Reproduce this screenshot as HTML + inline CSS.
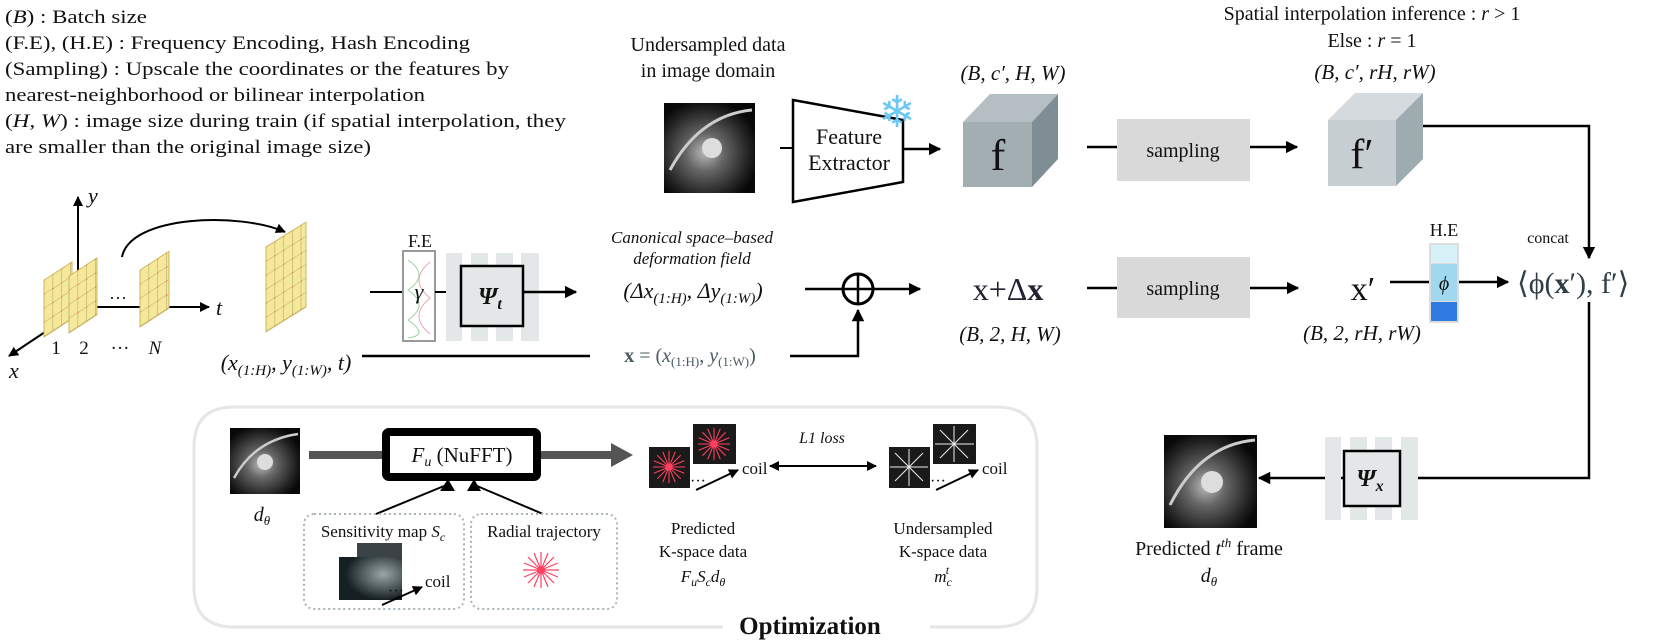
<!DOCTYPE html>
<html><head><meta charset="utf-8"><style>
html,body{margin:0;padding:0;background:#fff}
svg{display:block}
text{font-family:"Liberation Serif",serif;fill:#111}
</style></head><body>
<svg width="1661" height="644" viewBox="0 0 1661 644" xmlns="http://www.w3.org/2000/svg">
<defs>
<marker id="ah" viewBox="0 0 10 10" refX="9" refY="5" markerWidth="5" markerHeight="5" orient="auto-start-reverse"><path d="M0,0L10,5L0,10z" fill="#000"/></marker>
<pattern id="grid" width="8.7" height="14" patternUnits="userSpaceOnUse"><rect width="8.7" height="14" fill="#f5e89a"/><path d="M0,0V14M0,0H8.7" stroke="#9a8a50" stroke-width="0.8"/><circle cx="0" cy="0" r="1.3" fill="#e8734a"/></pattern>
<radialGradient id="mri" cx="0.45" cy="0.55" r="0.6"><stop offset="0" stop-color="#bbb"/><stop offset="0.35" stop-color="#666"/><stop offset="0.8" stop-color="#222"/><stop offset="1" stop-color="#080808"/></radialGradient>
<radialGradient id="sens" cx="0.7" cy="0.4" r="0.6"><stop offset="0" stop-color="#9aa6a8"/><stop offset="1" stop-color="#162022"/></radialGradient>
<g id="star"><g stroke="#ff4060" stroke-width="1.2"><line x1="-18" y1="0" x2="18" y2="0"/><line x1="0" y1="-18" x2="0" y2="18"/><line x1="-13" y1="-13" x2="13" y2="13"/><line x1="-13" y1="13" x2="13" y2="-13"/><line x1="-17" y1="-7" x2="17" y2="7"/><line x1="-17" y1="7" x2="17" y2="-7"/><line x1="-7" y1="-17" x2="7" y2="17"/><line x1="-7" y1="17" x2="7" y2="-17"/></g><circle r="4" fill="#ff4060"/></g>
</defs>

<!-- top-left legend -->
<g font-size="19">
<text x="5" y="23" textLength="142" lengthAdjust="spacingAndGlyphs">(<tspan font-style="italic">B</tspan>) : Batch size</text>
<text x="5" y="49" textLength="465" lengthAdjust="spacingAndGlyphs">(F.E), (H.E) : Frequency Encoding, Hash Encoding</text>
<text x="5" y="75" textLength="504" lengthAdjust="spacingAndGlyphs">(Sampling) : Upscale the coordinates or the features by</text>
<text x="5" y="101" textLength="420" lengthAdjust="spacingAndGlyphs">nearest-neighborhood or bilinear interpolation</text>
<text x="5" y="127" textLength="561" lengthAdjust="spacingAndGlyphs">(<tspan font-style="italic">H, W</tspan>) : image size during train (if spatial interpolation, they</text>
<text x="5" y="153" textLength="366" lengthAdjust="spacingAndGlyphs">are smaller than the original image size)</text>
</g>

<!-- top row -->
<text x="708" y="51" font-size="20" text-anchor="middle">Undersampled data</text>
<text x="708" y="77" font-size="20" text-anchor="middle">in image domain</text>
<rect x="664" y="103" width="91" height="90" fill="url(#mri)"/>
<path d="M670,170 Q700,115 752,110" stroke="#ccc" stroke-width="3" fill="none"/>
<circle cx="712" cy="148" r="10" fill="#ddd"/>
<line x1="780" y1="148" x2="793" y2="148" stroke="#000" stroke-width="2"/>
<polygon points="793,100 903,120 903,182 793,202" fill="#fff" stroke="#000" stroke-width="2.5"/>
<text x="849" y="144" font-size="22" text-anchor="middle">Feature</text>
<text x="849" y="170" font-size="22" text-anchor="middle">Extractor</text>
<text x="897" y="127" font-size="44" text-anchor="middle" style="fill:#6cc8f5" font-family="DejaVu Sans">❄</text>
<line x1="903" y1="149" x2="940" y2="149" stroke="#000" stroke-width="2.5" marker-end="url(#ah)"/>
<text x="1013" y="80" font-size="21" text-anchor="middle" font-style="italic">(B, c′, H, W)</text>
<polygon points="963,122 990,94 1058,94 1032,122" fill="#b4bec3"/>
<polygon points="1032,122 1058,94 1058,159 1032,187" fill="#7f8e95"/>
<rect x="963" y="122" width="69" height="65" fill="#a3aeb3"/>
<text x="998" y="170" font-size="44" text-anchor="middle">f</text>
<line x1="1087" y1="147" x2="1117" y2="147" stroke="#000" stroke-width="2.5"/>
<rect x="1117" y="119" width="133" height="62" fill="#d9d9d9"/>
<text x="1183" y="157" font-size="20" text-anchor="middle">sampling</text>
<line x1="1250" y1="147" x2="1297" y2="147" stroke="#000" stroke-width="2.5" marker-end="url(#ah)"/>
<text x="1372" y="20" font-size="20" text-anchor="middle">Spatial interpolation inference : <tspan font-style="italic">r</tspan> &gt; 1</text>
<text x="1372" y="47" font-size="20" text-anchor="middle">Else : <tspan font-style="italic">r</tspan> = 1</text>
<text x="1375" y="79" font-size="21" text-anchor="middle" font-style="italic">(B, c′, rH, rW)</text>
<polygon points="1328,120 1355,93 1423,93 1396,120" fill="#d4dadd"/>
<polygon points="1396,120 1423,93 1423,159 1396,186" fill="#9eacb1"/>
<rect x="1328" y="120" width="68" height="66" fill="#c6ced2"/>
<text x="1362" y="168" font-size="42" text-anchor="middle">f′</text>
<polyline points="1423,126 1589,126 1589,258" fill="none" stroke="#000" stroke-width="2.5" marker-end="url(#ah)"/>

<!-- left: grids and axes -->
<line x1="78" y1="272" x2="78" y2="197" stroke="#000" stroke-width="2" marker-end="url(#ah)"/>
<text x="88" y="203" font-size="22" font-style="italic">y</text>
<line x1="45" y1="332" x2="9" y2="356" stroke="#000" stroke-width="2" marker-end="url(#ah)"/>
<text x="9" y="378" font-size="22" font-style="italic">x</text>
<line x1="96" y1="307" x2="209" y2="307" stroke="#000" stroke-width="2" marker-end="url(#ah)"/>
<text x="216" y="315" font-size="22" font-style="italic">t</text>
<rect x="0" y="0" width="28" height="57" fill="url(#grid)" stroke="#c9b860" transform="translate(44,280) skewY(-33)"/>
<rect x="0" y="0" width="28" height="57" fill="url(#grid)" stroke="#c9b860" transform="translate(69,276) skewY(-33)"/>
<rect x="0" y="0" width="29" height="57" fill="url(#grid)" stroke="#c9b860" transform="translate(140,270) skewY(-33)"/>
<rect x="0" y="0" width="40" height="85" fill="url(#grid)" stroke="#c9b860" transform="translate(266,247) skewY(-32)"/>
<text x="118" y="304" font-size="18" text-anchor="middle">···</text>
<g font-size="19" text-anchor="middle"><text x="56" y="354">1</text><text x="84" y="354">2</text><text x="120" y="354">···</text><text x="155" y="354" font-style="italic">N</text></g>
<path d="M122,257 C130,215 240,212 285,232" fill="none" stroke="#000" stroke-width="2" marker-end="url(#ah)"/>
<text x="286" y="370" font-size="22" text-anchor="middle" font-style="italic">(x<tspan font-size="15" dy="5">(1:H)</tspan><tspan dy="-5">, y</tspan><tspan font-size="15" dy="5">(1:W)</tspan><tspan dy="-5">, t)</tspan></text>

<!-- middle row -->
<line x1="370" y1="292" x2="403" y2="292" stroke="#000" stroke-width="2"/>
<text x="420" y="247" font-size="18" text-anchor="middle">F.E</text>
<rect x="403" y="251" width="32" height="90" fill="#fff" stroke="#999" stroke-width="2"/>
<path d="M408,260 Q430,275 408,290 Q430,305 408,320 Q430,335 408,338" fill="none" stroke="#9ad3a0" stroke-width="1"/>
<path d="M430,262 Q408,280 430,298 Q408,316 430,334" fill="none" stroke="#f0a0b0" stroke-width="1"/>
<text x="419" y="299" font-size="22" text-anchor="middle" font-style="italic">γ</text>
<line x1="435" y1="292" x2="461" y2="292" stroke="#000" stroke-width="2"/>
<g fill="#e3e7e8"><rect x="446" y="253" width="16" height="88"/><rect x="471" y="253" width="17" height="88"/><rect x="496" y="253" width="17" height="88"/><rect x="521" y="253" width="18" height="88"/></g>
<rect x="461" y="266" width="62" height="60" fill="#e3e7e8" stroke="#000" stroke-width="2.5"/>
<text x="490" y="304" font-size="24" text-anchor="middle" font-style="italic" font-weight="bold">Ψ<tspan font-size="16" dy="5">t</tspan></text>
<line x1="523" y1="292" x2="576" y2="292" stroke="#000" stroke-width="2.5" marker-end="url(#ah)"/>
<text x="692" y="243" font-size="17" text-anchor="middle" font-style="italic">Canonical space–based</text>
<text x="692" y="264" font-size="17" text-anchor="middle" font-style="italic">deformation field</text>
<text x="693" y="298" font-size="22" text-anchor="middle" font-style="italic">(Δx<tspan font-size="15" dy="5">(1:H)</tspan><tspan dy="-5">, Δy</tspan><tspan font-size="15" dy="5">(1:W)</tspan><tspan dy="-5">)</tspan></text>
<line x1="805" y1="289" x2="920" y2="289" stroke="#000" stroke-width="2.5" marker-end="url(#ah)"/>
<circle cx="858" cy="289" r="15" fill="none" stroke="#000" stroke-width="3"/>
<line x1="858" y1="274" x2="858" y2="304" stroke="#000" stroke-width="2.5"/>
<polyline points="362,356 858,356 858,310" fill="none" stroke="#000" stroke-width="2.5" marker-end="url(#ah)"/>
<rect x="590" y="340" width="200" height="30" fill="#fff"/>
<text x="690" y="362" font-size="20" text-anchor="middle" style="fill:#4a5a5e"><tspan font-weight="bold">x</tspan> = (<tspan font-style="italic">x</tspan><tspan font-size="13" dy="4">(1:H)</tspan><tspan dy="-4">, </tspan><tspan font-style="italic">y</tspan><tspan font-size="13" dy="4">(1:W)</tspan><tspan dy="-4">)</tspan></text>
<text x="1008" y="300" font-size="32" text-anchor="middle" style="fill:#223">x+Δ<tspan font-weight="bold">x</tspan></text>
<text x="1010" y="341" font-size="21" text-anchor="middle" font-style="italic">(B, 2, H, W)</text>
<line x1="1087" y1="288" x2="1117" y2="288" stroke="#000" stroke-width="2.5"/>
<rect x="1117" y="257" width="133" height="61" fill="#d9d9d9"/>
<text x="1183" y="295" font-size="20" text-anchor="middle">sampling</text>
<line x1="1250" y1="288" x2="1298" y2="288" stroke="#000" stroke-width="2.5" marker-end="url(#ah)"/>
<text x="1363" y="300" font-size="34" text-anchor="middle">x′</text>
<text x="1362" y="340" font-size="21" text-anchor="middle" font-style="italic">(B, 2, rH, rW)</text>
<line x1="1390" y1="282" x2="1429" y2="282" stroke="#000" stroke-width="2.5"/>
<text x="1444" y="236" font-size="18" text-anchor="middle">H.E</text>
<rect x="1429" y="243" width="30" height="80" fill="#ddd"/>
<rect x="1431" y="245" width="26" height="18" fill="#d6f1f8"/>
<rect x="1431" y="264" width="26" height="37" fill="#9fd8ef"/>
<rect x="1431" y="302" width="26" height="19" fill="#2f7ae0"/>
<text x="1444" y="290" font-size="20" text-anchor="middle" font-style="italic">ϕ</text>
<line x1="1459" y1="282" x2="1508" y2="282" stroke="#000" stroke-width="2.5" marker-end="url(#ah)"/>
<text x="1548" y="243" font-size="16" text-anchor="middle">concat</text>
<text x="1517" y="293" font-size="30" style="fill:#2f3f44">⟨ϕ(<tspan font-weight="bold">x</tspan>′), f′⟩</text>
<polyline points="1589,302 1589,478 1259,478" fill="none" stroke="#000" stroke-width="2.5" marker-end="url(#ah)"/>
<g fill="#e3e7e8"><rect x="1325" y="437" width="16" height="83"/><rect x="1350" y="437" width="17" height="83"/><rect x="1375" y="437" width="17" height="83"/><rect x="1401" y="437" width="17" height="83"/></g>
<rect x="1344" y="451" width="56" height="55" fill="#e3e7e8" stroke="#000" stroke-width="2.5"/>
<text x="1370" y="486" font-size="24" text-anchor="middle" font-style="italic" font-weight="bold">Ψ<tspan font-size="16" dy="5">x</tspan></text>
<rect x="1164" y="435" width="93" height="93" fill="url(#mri)"/>
<path d="M1170,505 Q1200,445 1255,440" stroke="#ccc" stroke-width="3" fill="none"/>
<circle cx="1212" cy="482" r="11" fill="#ddd"/>
<text x="1209" y="555" font-size="20" text-anchor="middle">Predicted <tspan font-style="italic">t</tspan><tspan font-size="13" dy="-8" font-style="italic">th</tspan><tspan dy="8"> frame</tspan></text>
<text x="1209" y="582" font-size="20" text-anchor="middle" font-style="italic">d<tspan font-size="13" dy="4">θ</tspan></text>

<!-- Optimization box -->
<path d="M723,627 H234 Q194,627 194,587 V447 Q194,407 234,407 H997 Q1037,407 1037,447 V587 Q1037,627 997,627 H930" fill="none" stroke="#e6e6e6" stroke-width="3"/>
<text x="810" y="634" font-size="25" font-weight="bold" text-anchor="middle">Optimization</text>
<rect x="230" y="428" width="70" height="66" fill="url(#mri)"/>
<path d="M234,478 Q255,440 298,434" stroke="#ccc" stroke-width="2.5" fill="none"/>
<circle cx="265" cy="462" r="8" fill="#ddd"/>
<text x="262" y="521" font-size="20" text-anchor="middle" font-style="italic">d<tspan font-size="13" dy="4">θ</tspan></text>
<line x1="309" y1="455" x2="612" y2="455" stroke="#555" stroke-width="8"/>
<polygon points="611,443 633,455 611,467" fill="#555"/>
<rect x="386" y="432" width="151" height="45" rx="3" fill="#fff" stroke="#000" stroke-width="8"/>
<text x="462" y="462" font-size="21" text-anchor="middle"><tspan font-style="italic">F<tspan font-size="14" dy="4">u</tspan></tspan><tspan dy="-4"> (NuFFT)</tspan></text>
<line x1="376" y1="514" x2="444" y2="486" stroke="#000" stroke-width="2"/>
<line x1="543" y1="514" x2="477" y2="486" stroke="#000" stroke-width="2"/>
<polygon points="440,491 448,479 455,491" fill="#000"/>
<polygon points="467,491 474,479 481,491" fill="#000"/>
<rect x="304" y="514" width="160" height="95" rx="10" fill="none" stroke="#a9b4ba" stroke-width="2" stroke-dasharray="2,3"/>
<rect x="471" y="514" width="146" height="95" rx="10" fill="none" stroke="#a9b4ba" stroke-width="2" stroke-dasharray="2,3"/>
<text x="383" y="537" font-size="17" text-anchor="middle">Sensitivity map <tspan font-style="italic">S<tspan font-size="12" dy="4">c</tspan></tspan></text>
<text x="544" y="537" font-size="17" text-anchor="middle">Radial trajectory</text>
<rect x="357" y="543" width="45" height="40" fill="#3a4446"/>
<rect x="339" y="557" width="63" height="43" fill="url(#sens)"/>
<text x="388" y="596" font-size="16">···</text>
<line x1="382" y1="605" x2="422" y2="587" stroke="#000" stroke-width="2" marker-end="url(#ah)"/>
<text x="425" y="587" font-size="17">coil</text>
<use href="#star" x="541" y="570"/>
<rect x="649" y="447" width="41" height="41" fill="#1a1a1a"/><use href="#star" transform="translate(669,467) scale(0.9)"/>
<rect x="693" y="424" width="43" height="40" fill="#1a1a1a"/><use href="#star" transform="translate(714,444) scale(0.9)"/>
<text x="690" y="486" font-size="16">···</text>
<line x1="696" y1="490" x2="738" y2="470" stroke="#000" stroke-width="2" marker-end="url(#ah)"/>
<text x="742" y="474" font-size="17">coil</text>
<text x="703" y="534" font-size="17" text-anchor="middle">Predicted</text>
<text x="703" y="557" font-size="17" text-anchor="middle">K-space data</text>
<text x="703" y="582" font-size="17" text-anchor="middle" font-style="italic">F<tspan font-size="12" dy="4">u</tspan><tspan dy="-4">S</tspan><tspan font-size="12" dy="4">c</tspan><tspan dy="-4">d</tspan><tspan font-size="12" dy="4">θ</tspan></text>
<text x="822" y="443" font-size="16" text-anchor="middle" font-style="italic">L1 loss</text>
<line x1="770" y1="466" x2="876" y2="466" stroke="#000" stroke-width="2" marker-start="url(#ah)" marker-end="url(#ah)"/>
<rect x="889" y="447" width="41" height="41" fill="#1a1a1a"/>
<rect x="933" y="424" width="43" height="40" fill="#1a1a1a"/>
<g stroke="#eee" stroke-width="1"><line x1="890" y1="467" x2="928" y2="467"/><line x1="909" y1="449" x2="909" y2="486"/><line x1="895" y1="453" x2="923" y2="481"/><line x1="895" y1="481" x2="923" y2="453"/><line x1="935" y1="444" x2="974" y2="444"/><line x1="954" y1="426" x2="954" y2="462"/><line x1="940" y1="430" x2="968" y2="458"/><line x1="940" y1="458" x2="968" y2="430"/></g>
<text x="930" y="486" font-size="16">···</text>
<line x1="936" y1="490" x2="978" y2="470" stroke="#000" stroke-width="2" marker-end="url(#ah)"/>
<text x="982" y="474" font-size="17">coil</text>
<text x="943" y="534" font-size="17" text-anchor="middle">Undersampled</text>
<text x="943" y="557" font-size="17" text-anchor="middle">K-space data</text>
<text x="943" y="582" font-size="17" text-anchor="middle" font-style="italic">m<tspan font-size="12" dy="4">c</tspan><tspan font-size="12" dy="-12" dx="-6">t</tspan></text>
</svg>
</body></html>
